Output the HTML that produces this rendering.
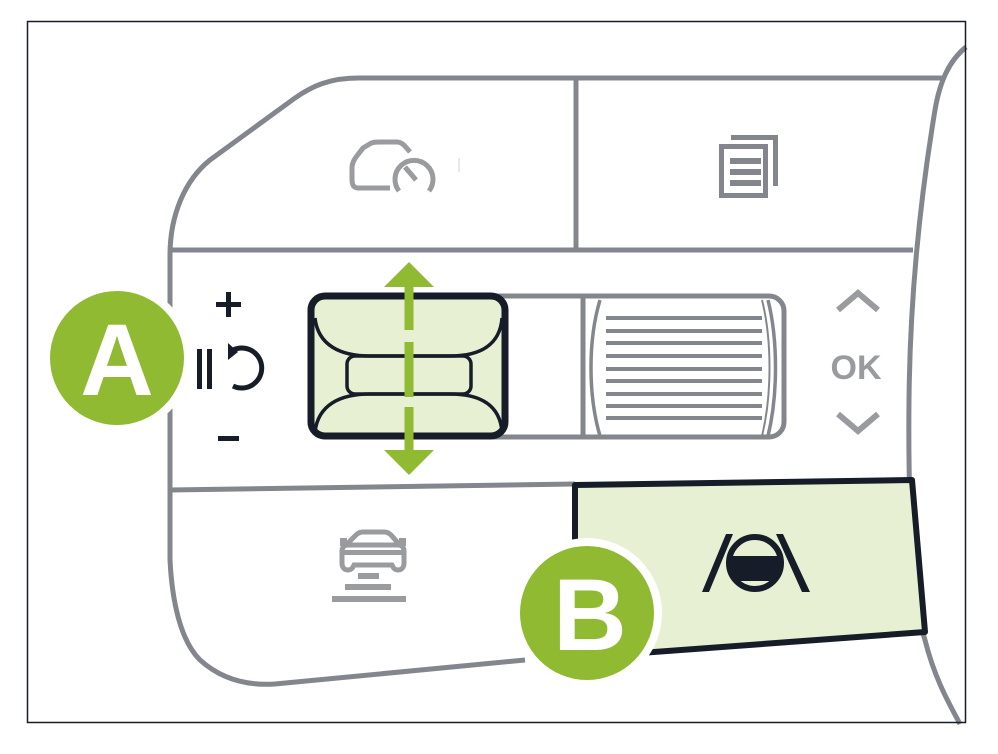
<!DOCTYPE html>
<html><head><meta charset="utf-8"><style>
html,body{margin:0;padding:0;background:#fff;}
svg{display:block;}
text{font-family:"Liberation Sans",sans-serif;font-weight:bold;}
</style></head><body>
<svg width="998" height="754" viewBox="0 0 998 754" xmlns="http://www.w3.org/2000/svg">
<rect x="0" y="0" width="998" height="754" fill="#fff"/>
<g fill="none" stroke="#83878d" stroke-width="5">
  <path d="M945 78 L358 78 C330 78 312 86 295 98 L210 160 C185 180 170 215 170 255 L170 560 C172 600 180 640 200 660 C220 678 245 686 275 684 L525 660"/>
  <path d="M966 47 C950 60 940 80 935 110 C920 200 910 300 909 400 C908 500 912 600 925 640 C935 680 950 705 960 724"/>
  <line x1="170" y1="250" x2="913" y2="250"/>
  <line x1="170" y1="490" x2="575" y2="484"/>
  <line x1="576" y1="80" x2="576" y2="248"/>
  <rect x="310" y="296" width="474" height="141" rx="15"/>
  <line x1="583" y1="297" x2="583" y2="436"/>
  <path d="M600 300 C588 340 588 395 600 436" stroke-width="3.5"/>
  <path d="M768 300 C778 340 778 395 768 436" stroke-width="3.5"/>
  <path d="M762 300 C772 340 772 395 762 436" stroke-width="2"/>
</g>
<g stroke="#83878d" stroke-width="4">
  <line x1="606" y1="318" x2="762" y2="318"/><line x1="606" y1="331" x2="762" y2="331"/>
  <line x1="606" y1="343" x2="762" y2="343"/><line x1="606" y1="356" x2="762" y2="356"/>
  <line x1="606" y1="369" x2="762" y2="369"/><line x1="606" y1="381" x2="762" y2="381"/>
  <line x1="606" y1="394" x2="762" y2="394"/><line x1="606" y1="406" x2="762" y2="406"/>
  <line x1="606" y1="418" x2="762" y2="418"/>
</g>
<rect x="311" y="296" width="194" height="140" rx="14" fill="#e8f0d4" stroke="#161d28" stroke-width="7"/>
<g fill="none" stroke="#161d28" stroke-width="3.5">
  <path d="M315 318 C318 345 340 356 370 356 L450 356 C480 356 500 345 502 318"/>
  <path d="M315 432 C318 405 340 394 370 394 L450 394 C480 394 500 405 502 432"/>
  <rect x="347" y="356" width="124" height="38" rx="8"/>
</g>
<polygon points="409,262 434,287 384,287" fill="#8fba31"/>
<polygon points="409,475 434,450 384,450" fill="#8fba31"/>
<g stroke="#8fba31" stroke-width="9">
  <line x1="409" y1="285" x2="409" y2="330"/>
  <line x1="409" y1="342" x2="409" y2="397"/>
  <line x1="409" y1="407" x2="409" y2="452"/>
</g>
<!-- B panel -->
<polygon points="575,485 912,480 925,632 600,656 575,656" fill="#e8f0d4" stroke="#161d28" stroke-width="6" stroke-linejoin="round"/>
<!-- lane icon -->
<g fill="#161d28">
  <polygon points="726,534 733,534 709,592 702,592"/>
  <polygon points="776,534 783,534 810,592 802,592"/>
  <circle cx="755" cy="563" r="26" fill="none" stroke="#161d28" stroke-width="6"/>
  <path d="M731 556 L779 556 L777 581 L733 581 Z"/>
</g>
<!-- top icons -->
<g fill="none" stroke="#9a9b9f" stroke-width="5">
  <path d="M390 188 L358 188 C352 188 352 182 352 178 L352 168 C352 160 358 155 363 148 L368 145 C372 142 375 142 380 142 L397 142 C402 142 405 146 410 152"/>
  <path d="M399 191 A19 19 0 1 1 429 191"/>
</g>
<line x1="405" y1="167" x2="416" y2="180" stroke="#9a9b9f" stroke-width="5"/>
<line x1="459" y1="158" x2="459" y2="172" stroke="#cfd0d2" stroke-width="1"/>
<g fill="#83878d">
  <path d="M731 135 L778 135 L778 186 L773 186 L773 140 L731 140 Z"/>
  <path d="M719 144 L768 144 L768 198 L719 198 Z M724 149 L724 193 L763 193 L763 149 Z"/>
  <rect x="730" y="158" width="31" height="6"/>
  <rect x="730" y="169" width="31" height="6"/>
  <rect x="730" y="180" width="31" height="6"/>
</g>
<g fill="none" stroke="#9a9b9f" stroke-width="5">
  <path d="M342 563 L342 551 C342 547 345 545 348 545 L398 545 C401 545 404 547 404 551 L404 563 C404 567 402 570 398 570 C394 570 393 567 392 565 L354 565 C353 567 352 570 348 570 C344 570 342 567 342 563 Z"/>
  <path d="M347 544 L356 535 C358 533 360 532 363 532 L384 532 C387 532 389 533 391 535 L399 544"/>
</g>
<g fill="#9a9b9f">
  <rect x="340" y="538" width="7" height="8"/><rect x="399" y="538" width="7" height="8"/>
  <rect x="344" y="550" width="59" height="5"/>
  <rect x="358" y="573" width="21" height="6"/>
  <rect x="345" y="584" width="46" height="6"/>
  <rect x="332" y="596" width="74" height="6"/>
</g>
<!-- left symbols -->
<g fill="#161d28">
  <rect x="216" y="302" width="25" height="5"/><rect x="226" y="292" width="5" height="25"/>
  <rect x="218" y="436" width="21" height="5"/>
  <rect x="197" y="349" width="5" height="40"/><rect x="207" y="349" width="5" height="40"/>
</g>
<path d="M233 350 A20 20 0 1 1 233 386" fill="none" stroke="#161d28" stroke-width="5"/>
<polygon points="228,343 238,352 228,360" fill="#161d28"/>
<g fill="none" stroke="#9a9b9f" stroke-width="6">
  <polyline points="838,310 858,293 878,310"/>
  <polyline points="838,414 858,431 878,414"/>
</g>
<text x="856" y="379" font-size="34" fill="#9a9b9f" text-anchor="middle">OK</text>
<circle cx="117" cy="358" r="75" fill="#fff"/>
<circle cx="117" cy="358" r="67" fill="#8fba31"/>
<text x="117" y="395" font-size="102" fill="#fff" text-anchor="middle">A</text>
<circle cx="587" cy="613" r="75" fill="#fff"/>
<circle cx="587" cy="613" r="67" fill="#8fba31"/>
<text x="590" y="650" font-size="102" fill="#fff" text-anchor="middle">B</text>
<rect x="27.5" y="21.5" width="938" height="701" fill="none" stroke="#161d28" stroke-width="1.5"/>
</svg>
</body></html>
